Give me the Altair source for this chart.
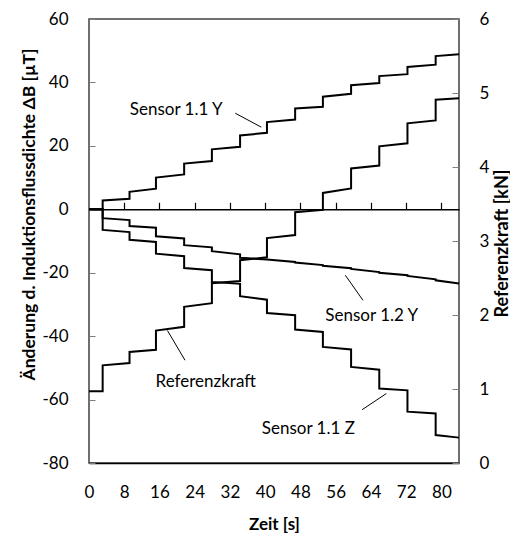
import altair as alt
import pandas as pd

# ---- data ----
step_times = [0, 3.1, 9.2, 15.2, 21.6, 27.9, 34.3, 40.4, 46.8, 53.1, 59.5, 65.9, 72.3, 78.7, 84.0]

s11y_start = [0, 2.8, 5.5, 10.0, 14.4, 18.9, 23.3, 27.5, 31.8, 35.5, 39.1, 42.0, 44.9, 48.3]
s11y_end = [0, 3.3, 6.5, 11.0, 15.2, 19.7, 24.1, 28.3, 32.3, 36.4, 39.8, 42.6, 45.6, 48.9]
s11z_start = [0, -6.5, -9.6, -14.0, -18.5, -22.9, -27.4, -32.7, -37.9, -43.4, -49.7, -56.5, -63.8, -71.2]
s11z_end = [0, -7.2, -10.3, -14.8, -19.2, -23.5, -28.5, -33.4, -38.7, -44.2, -50.6, -57.1, -64.4, -72.0]
s12y_start = [0, -2.8, -5.3, -8.5, -11.3, -13.2, -15.3, -15.8, -16.8, -17.8, -18.8, -20.0, -21.0, -22.4]
s12y_end = [0, -3.4, -5.8, -9.2, -12.0, -14.2, -15.8, -16.6, -17.6, -18.6, -19.8, -20.8, -22.1, -23.4]
ref_start = [0.97, 1.32, 1.50, 1.79, 2.11, 2.43, 2.74, 3.04, 3.39, 3.65, 3.98, 4.28, 4.59, 4.91]
ref_end = [0.97, 1.35, 1.53, 1.84, 2.16, 2.46, 2.78, 3.08, 3.42, 3.71, 4.02, 4.32, 4.63, 4.93]

x_ticks = [0, 8, 16, 24, 32, 40, 48, 56, 64, 72, 80]
left_ticks = [-80, -60, -40, -20, 0, 20, 40, 60]
right_ticks = [0, 1, 2, 3, 4, 5, 6]

label_text = ["Sensor 1.1 Y", "Sensor 1.2 Y", "Referenzkraft", "Sensor 1.1 Z"]
label_t = [19.8, 64.2, 26.5, 49.8]
label_v = [31.2, -33.7, -54.5, -69.2]
leader_t1 = [33.2, 58.2, 17.8, 62.0]
leader_v1 = [30.3, -20.8, -38.2, -63.2]
leader_t2 = [39.1, 62.2, 21.8, 67.5]
leader_v2 = [25.9, -28.7, -47.6, -58.1]


def steps(name, starts, ends):
    rows = []
    for i in range(len(starts)):
        rows.append({"series": name, "t": step_times[i], "v": starts[i], "o": 2 * i})
        rows.append({"series": name, "t": step_times[i + 1], "v": ends[i], "o": 2 * i + 1})
    return rows


sensor_df = pd.DataFrame(
    steps("Sensor 1.1 Y", s11y_start, s11y_end)
    + steps("Sensor 1.1 Z", s11z_start, s11z_end)
    + steps("Sensor 1.2 Y", s12y_start, s12y_end)
)
ref_df = pd.DataFrame(steps("Referenzkraft", ref_start, ref_end))
label_df = pd.DataFrame({"label": label_text, "t": label_t, "v": label_v})
leader_df = pd.DataFrame({"t": leader_t1, "v": leader_v1, "t2": leader_t2, "v2": leader_v2})

FONT = "Lato"
HYPHEN = "replace(datum.label, '\u2212', '-')"
xscale = alt.Scale(domain=[0, 84], nice=False, zero=False)
yscale = alt.Scale(domain=[-80, 60], nice=False, zero=False)
rscale = alt.Scale(domain=[0, 6], nice=False, zero=False)

x_axis = alt.Axis(
    orient="bottom", values=x_ticks, title="Zeit [s]", ticks=False, tickSize=0,
    domain=True, domainColor="black", domainWidth=1.5, labelPadding=21,
    labelFontSize=17, labelFont=FONT, labelColor="black", labelFlush=False,
    titleFontSize=17, titleFont=FONT, titleFontWeight="bold", titleColor="black",
    titleY=66, titleBaseline="alphabetic", grid=False,
)
y_axis = alt.Axis(
    orient="left", values=left_ticks, offset=-6, tickSize=6, tickColor="#7f7f7f",
    domain=False, labelPadding=21, labelFontSize=17, labelFont=FONT, labelColor="black",
    labelFlush=False, labelExpr=HYPHEN, title="Änderung d. Induktionsflussdichte ΔB [µT]",
    titleFontSize=17.5, titleFont=FONT, titleFontWeight="bold", titleColor="black",
    titleAngle=270, titleX=-66, titleY=195, titleAlign="center", titleBaseline="middle",
    grid=False,
)
r_axis = alt.Axis(
    orient="right", values=right_ticks, offset=-7, tickSize=7, tickColor="#7f7f7f",
    domain=False, labelPadding=20, labelFontSize=17, labelFont=FONT, labelColor="black",
    labelFlush=False, title="Referenzkraft [kN]",
    titleFontSize=18, titleFont=FONT, titleFontWeight="bold", titleColor="black",
    titleAngle=270, titleX=50, titleY=224, titleAlign="center", titleBaseline="middle",
    grid=False,
)
zero_axis = alt.Axis(
    orient="top", values=x_ticks[1:], offset=-190.3, tickSize=7, tickColor="black",
    tickWidth=1.2, domain=True, domainColor="black", domainWidth=1.5, labels=False,
    title=None, grid=False,
)

sensors = alt.Chart(sensor_df).mark_line(color="black", strokeWidth=2).encode(
    x=alt.X("t:Q", scale=xscale, axis=x_axis),
    y=alt.Y("v:Q", scale=yscale, axis=y_axis),
    detail="series:N",
    order="o:Q",
)
texts = alt.Chart(label_df).mark_text(
    font=FONT, fontSize=17, color="black", align="center", baseline="middle"
).encode(
    x=alt.X("t:Q", scale=xscale, axis=x_axis),
    y=alt.Y("v:Q", scale=yscale, axis=y_axis),
    text="label:N",
)
leaders = alt.Chart(leader_df).mark_rule(color="black", strokeWidth=1).encode(
    x=alt.X("t:Q", scale=xscale, axis=x_axis),
    y=alt.Y("v:Q", scale=yscale, axis=y_axis),
    x2="t2:Q",
    y2="v2:Q",
)
left = alt.layer(sensors, texts, leaders)

ref = alt.Chart(ref_df).mark_line(color="black", strokeWidth=2).encode(
    x=alt.X("t:Q", scale=xscale, axis=zero_axis),
    y=alt.Y("v:Q", scale=rscale, axis=r_axis),
    order="o:Q",
)

chart = (
    alt.layer(left, ref)
    .resolve_scale(y="independent")
    .resolve_axis(x="independent")
    .properties(
        width=370, height=444,
        autosize=alt.AutoSizeParams(type="none"),
        padding={"left": 81, "top": 11, "right": 51, "bottom": 70},
        background="white",
    )
    .configure_view(stroke="#404040", strokeWidth=1.5)
)

chart.save("out.html", embed_options={"renderer": "svg", "actions": False})
